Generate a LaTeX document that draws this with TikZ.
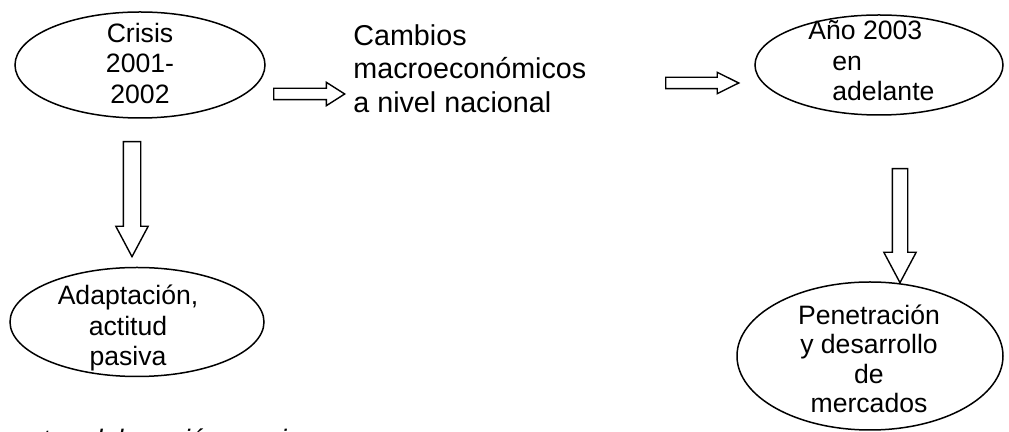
\documentclass[tikz,border=0pt]{standalone}
\usepackage{fontspec}
\setmainfont{Liberation Sans}
\usetikzlibrary{shapes.geometric,shapes.arrows}

\begin{document}
\begin{tikzpicture}[x=0.5pt,y=-0.5pt,
  ell/.style={ellipse,draw,line width=0.75pt,inner sep=0pt},
  lbl/.style={inner sep=0pt,align=center,font=\fontsize{13.3pt}{15.25pt}\selectfont},
  barrow/.style={single arrow,draw,line width=0.7pt,fill=white,anchor=tail,single arrow head indent=0pt}]
\clip (0,0) rectangle (1009,432);
% Top row: crisis, changes, from 2003
\node[ell,minimum width=125pt,minimum height=53pt] (e1) at (140,65) {};
\node[lbl] (t1) at (140,63) {Crisis\\2001-\\2002};
\node[inner sep=0pt,anchor=north west,align=left,font=\fontsize{14.35pt}{16.75pt}\selectfont] (cambios) at (353,24) {Cambios\\macroeconómicos\\a nivel nacional};
\node[ell,minimum width=124pt,minimum height=50pt] (e3) at (879,65) {};
\node[lbl,align=left,anchor=west] (t3) at (808,61) {Año 2003\\\hspace*{12pt}en\\\hspace*{12pt}adelante};

% Block arrows
\node[barrow,inner sep=2.5pt,minimum height=35.5pt,single arrow head extend=3pt,single arrow tip angle=65] (a1) at (273,94) {};
\node[barrow,inner sep=2.5pt,minimum height=36.5pt,single arrow head extend=2.5pt,single arrow tip angle=53] (a2) at (665,83) {};
\node[barrow,inner sep=4pt,shape border rotate=270,minimum height=57.5pt,single arrow head extend=3.75pt,single arrow tip angle=56] (a3) at (132,141) {};
\node[barrow,inner sep=3.5pt,shape border rotate=270,minimum height=57pt,single arrow head extend=4.25pt,single arrow tip angle=56] (a4) at (900,168) {};

% Bottom row: results
\node[ell,minimum width=127pt,minimum height=54.5pt] (e2) at (137,322) {};
\node[lbl] (t2) at (128,328) {Adaptación,\\actitud\\pasiva};
\node[ell,minimum width=133pt,minimum height=74pt] (e4) at (870,356) {};
\node[lbl,font=\fontsize{13.3pt}{14.75pt}\selectfont] (t4) at (869,359) {Penetración\\y desarrollo\\de\\mercados};

% Source note (cut by the page edge)
\node[inner sep=0pt,anchor=base west,font=\fontsize{13.35pt}{15pt}\selectfont\itshape] (fuente) at (-19,449) {Fuente: elaboración propia};
\end{tikzpicture}
\end{document}
